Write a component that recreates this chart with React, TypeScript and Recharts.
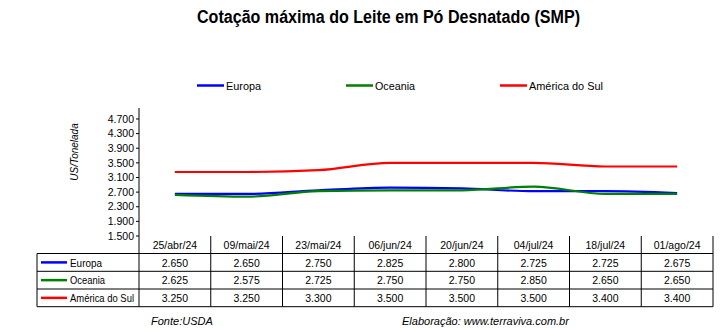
import { LineChart, Line, XAxis, YAxis } from 'recharts'

const categories = ['25/abr/24', '09/mai/24', '23/mai/24', '06/jun/24', '20/jun/24', '04/jul/24', '18/jul/24', '01/ago/24']
const europa = [2650, 2650, 2750, 2825, 2800, 2725, 2725, 2675]
const oceania = [2625, 2575, 2725, 2750, 2750, 2850, 2650, 2650]
const americaSul = [3250, 3250, 3300, 3500, 3500, 3500, 3400, 3400]
const yTicks = [1500, 1900, 2300, 2700, 3100, 3500, 3900, 4300, 4700]

const series = [
  { key: 'europa', name: 'Europa', color: '#0000FF', values: europa },
  { key: 'oceania', name: 'Oceania', color: '#008000', values: oceania },
  { key: 'americaSul', name: 'América do Sul', color: '#FF0000', values: americaSul },
]

const W = 722
const H = 332
const LEFT = 139
const RIGHT = 713
const TOP = 108
const BOTTOM = 236
const COL = (RIGHT - LEFT) / categories.length
const ROWS = [236, 253.5, 271.3, 289, 306.7]
const FONT = '"Liberation Sans", Arial, sans-serif'

// the reference uses a narrow font, so squeeze the names to its widths
const legendX = [197, 346, 500]
const legendW = [35, 40, 74]
const rowLabelW = [32, 35, 64]

// 2650 -> "2.650"
const fmt = (v: number) => {
  const s = String(Math.round(v))
  return s.length > 3 ? s.slice(0, s.length - 3) + '.' + s.slice(s.length - 3) : s
}

export default function App() {
  const data = categories.map((c, i) => ({
    cat: c,
    europa: europa[i],
    oceania: oceania[i],
    americaSul: americaSul[i],
  }))

  return (
    <div style={{ position: 'relative', width: W, height: H, background: '#fff' }}>
      <style>{'body{margin:0}'}</style>
      <LineChart
        width={W}
        height={H}
        data={data}
        margin={{ top: TOP, right: W - RIGHT, bottom: H - BOTTOM, left: LEFT - 60 }}
      >
        <XAxis
          dataKey="cat"
          height={0}
          tick={false}
          tickLine={false}
          axisLine={{ stroke: '#000' }}
          padding={{ left: COL / 2, right: COL / 2 }}
        />
        <YAxis
          width={60}
          domain={[1500, 5000]}
          ticks={yTicks}
          tickFormatter={fmt}
          tickSize={3}
          tickLine={{ stroke: '#000' }}
          axisLine={{ stroke: '#000' }}
          tick={{ fill: '#000', fontSize: 10.5, fontFamily: FONT }}
          interval={0}
        />
        {series.map((s) => (
          <Line
            key={s.key}
            dataKey={s.key}
            type="monotone"
            stroke={s.color}
            strokeWidth={2.2}
            dot={false}
            activeDot={false}
            isAnimationActive={false}
          />
        ))}
      </LineChart>

      <svg
        width={W}
        height={H}
        style={{ position: 'absolute', left: 0, top: 0, pointerEvents: 'none' }}
        fontFamily={FONT}
      >
        <text x={197} y={23} fontSize={18} fontWeight="bold" textLength={383} lengthAdjust="spacingAndGlyphs">
          Cotação máxima do Leite em Pó Desnatado (SMP)
        </text>

        {series.map((s, i) => (
          <g key={s.key}>
            <line x1={legendX[i]} x2={legendX[i] + 27} y1={85.5} y2={85.5} stroke={s.color} strokeWidth={2.5} />
            <text
              x={legendX[i] + 29}
              y={89.5}
              fontSize={11}
              textLength={legendW[i]}
              lengthAdjust="spacingAndGlyphs"
            >
              {s.name}
            </text>
          </g>
        ))}

        <text
          x={0}
          y={0}
          fontSize={10}
          fontStyle="italic"
          textAnchor="middle"
          transform="translate(78 152) rotate(-90)"
        >
          US/Tonelada
        </text>

        {/* data table */}
        {ROWS.slice(1).map((y) => (
          <line key={y} x1={37} x2={RIGHT} y1={y} y2={y} stroke="#000" />
        ))}
        <line x1={37} x2={37} y1={ROWS[1]} y2={ROWS[4]} stroke="#000" />
        {categories.map((_, i) => (
          <line key={i} x1={LEFT + i * COL} x2={LEFT + i * COL} y1={ROWS[0]} y2={ROWS[4]} stroke="#000" />
        ))}
        <line x1={RIGHT} x2={RIGHT} y1={ROWS[0]} y2={ROWS[4]} stroke="#000" />
        {categories.map((c, i) => (
          <text key={c} x={LEFT + (i + 0.5) * COL} y={ROWS[0] + 13} fontSize={10.5} textAnchor="middle">
            {c}
          </text>
        ))}
        {series.map((s, r) => (
          <g key={s.key}>
            <line
              x1={41}
              x2={67}
              y1={(ROWS[r + 1] + ROWS[r + 2]) / 2}
              y2={(ROWS[r + 1] + ROWS[r + 2]) / 2}
              stroke={s.color}
              strokeWidth={2.5}
            />
            <text
              x={70}
              y={ROWS[r + 1] + 13}
              fontSize={10.5}
              textLength={rowLabelW[r]}
              lengthAdjust="spacingAndGlyphs"
            >
              {s.name}
            </text>
            {s.values.map((v, i) => (
              <text key={i} x={LEFT + (i + 0.5) * COL} y={ROWS[r + 1] + 13} fontSize={10.5} textAnchor="middle">
                {fmt(v)}
              </text>
            ))}
          </g>
        ))}

        <text x={151} y={325} fontSize={11} fontStyle="italic">
          Fonte:USDA
        </text>
        <text x={402} y={325} fontSize={11} fontStyle="italic">
          Elaboração: www.terraviva.com.br
        </text>
      </svg>
    </div>
  )
}
